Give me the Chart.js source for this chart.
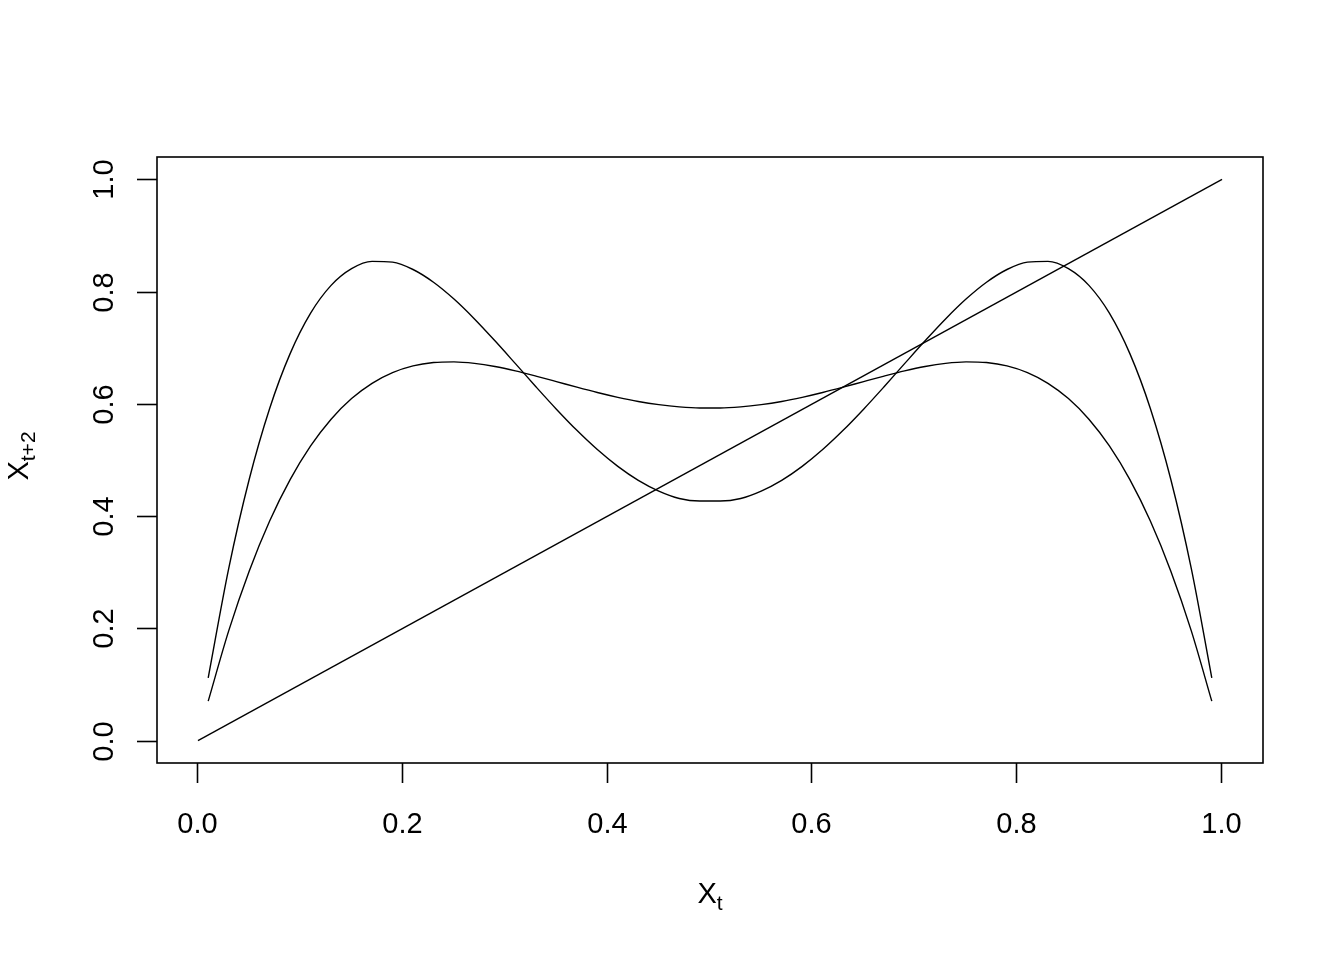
<!DOCTYPE html>
<html>
<head>
<meta charset="utf-8">
<script src="https://cdn.jsdelivr.net/npm/chart.js@4/dist/chart.umd.min.js"></script>
<style>
  html, body { margin: 0; padding: 0; background: #ffffff; }
  #wrap { width: 1344px; height: 960px; }
</style>
</head>
<body>
<div id="wrap"><canvas id="mapChart" width="1344" height="960"></canvas></div>
<script>
// x positions sampled along X_t
const xValues = [
  0.01, 0.03, 0.05, 0.07, 0.09, 0.11, 0.13, 0.15, 0.17, 0.19,
  0.21, 0.23, 0.25, 0.27, 0.29, 0.31, 0.33, 0.35, 0.37, 0.39,
  0.41, 0.43, 0.45, 0.47, 0.49, 0.51, 0.53, 0.55, 0.57, 0.59,
  0.61, 0.63, 0.65, 0.67, 0.69, 0.71, 0.73, 0.75, 0.77, 0.79,
  0.81, 0.83, 0.85, 0.87, 0.89, 0.91, 0.93, 0.95, 0.97, 0.99,
];

// tall two-humped curve (peaks ~0.85, dip ~0.43)
const curveHigh = [
  0.1119, 0.3065, 0.4653, 0.5919, 0.6896, 0.7617, 0.8112, 0.8410, 0.8540, 0.8526,
  0.8395, 0.8168, 0.7868, 0.7514, 0.7124, 0.6717, 0.6306, 0.5906, 0.5529, 0.5186,
  0.4886, 0.4637, 0.4445, 0.4314, 0.4268, 0.4268, 0.4314, 0.4445, 0.4637, 0.4886,
  0.5186, 0.5529, 0.5906, 0.6306, 0.6717, 0.7124, 0.7514, 0.7868, 0.8168, 0.8395,
  0.8526, 0.8540, 0.8410, 0.8112, 0.7617, 0.6896, 0.5919, 0.4653, 0.3065, 0.1119,
];

// flatter curve (peaks ~0.675, dip ~0.59)
const curveLow = [
  0.0702, 0.1955, 0.3019, 0.3912, 0.4650, 0.5250, 0.5727, 0.6095, 0.6367, 0.6557,
  0.6677, 0.6737, 0.6749, 0.6722, 0.6666, 0.6588, 0.6496, 0.6398, 0.6298, 0.6203,
  0.6117, 0.6043, 0.5986, 0.5946, 0.5926, 0.5926, 0.5946, 0.5986, 0.6043, 0.6117,
  0.6203, 0.6298, 0.6398, 0.6496, 0.6588, 0.6666, 0.6722, 0.6749, 0.6737, 0.6677,
  0.6557, 0.6367, 0.6095, 0.5727, 0.5250, 0.4650, 0.3912, 0.3019, 0.1955, 0.0702,
];

// identity line X_{t+2} = X_t
const diagX = [0, 1];
const diagY = [0, 1];

const tickValues = [0, 0.2, 0.4, 0.6, 0.8, 1.0];
const tickLabels = ["0.0", "0.2", "0.4", "0.6", "0.8", "1.0"];

const FONT = '"Liberation Sans", Arial, sans-serif';
const LABEL_PX = 29;
const SUB_PX = 21;

function toPoints(xs, ys) {
  return xs.map((x, i) => ({ x: x, y: ys[i] }));
}

function lineSet(data, smooth) {
  return {
    data: data,
    showLine: true,
    borderColor: "#000000",
    borderWidth: 1.4,
    pointRadius: 0,
    cubicInterpolationMode: smooth ? "monotone" : "default",
    tension: 0,
    fill: false,
  };
}

// draws the R-style box, ticks, tick labels and axis titles
const baseAxes = {
  id: "baseAxes",
  afterDraw(chart) {
    const ctx = chart.ctx;
    const area = chart.chartArea;
    const xs = chart.scales.x;
    const ys = chart.scales.y;
    const tickLen = 20;

    ctx.save();
    ctx.strokeStyle = "#000000";
    ctx.lineWidth = 1.6;
    ctx.strokeRect(area.left, area.top, area.right - area.left, area.bottom - area.top);

    ctx.fillStyle = "#000000";
    ctx.font = LABEL_PX + "px " + FONT;

    // x axis ticks + labels
    tickValues.forEach((v, i) => {
      const px = Math.round(xs.getPixelForValue(v)) - 0.5;
      ctx.beginPath();
      ctx.moveTo(px, area.bottom);
      ctx.lineTo(px, area.bottom + tickLen);
      ctx.stroke();
      ctx.textAlign = "center";
      ctx.textBaseline = "alphabetic";
      ctx.fillText(tickLabels[i], px, 833);
    });

    // y axis ticks + rotated labels
    tickValues.forEach((v, i) => {
      const py = Math.round(ys.getPixelForValue(v)) + 0.5;
      ctx.beginPath();
      ctx.moveTo(area.left, py);
      ctx.lineTo(area.left - tickLen, py);
      ctx.stroke();
      ctx.save();
      ctx.translate(113, py);
      ctx.rotate(-Math.PI / 2);
      ctx.textAlign = "center";
      ctx.textBaseline = "alphabetic";
      ctx.fillText(tickLabels[i], 0, 0);
      ctx.restore();
    });

    // x title: X_t
    const cx = (area.left + area.right) / 2;
    ctx.font = LABEL_PX + "px " + FONT;
    const wX = ctx.measureText("X").width;
    ctx.font = SUB_PX + "px " + FONT;
    const wSubX = ctx.measureText("t").width;
    let start = cx - (wX + wSubX) / 2;
    ctx.textAlign = "left";
    ctx.font = LABEL_PX + "px " + FONT;
    ctx.fillText("X", start, 903);
    ctx.font = SUB_PX + "px " + FONT;
    ctx.fillText("t", start + wX, 910);

    // y title: X_{t+2}
    const cy = (area.top + area.bottom) / 2 - 4;
    ctx.save();
    ctx.translate(28, cy);
    ctx.rotate(-Math.PI / 2);
    ctx.font = LABEL_PX + "px " + FONT;
    const wY = ctx.measureText("X").width;
    ctx.font = SUB_PX + "px " + FONT;
    const wSubY = ctx.measureText("t+2").width;
    start = -(wY + wSubY) / 2;
    ctx.textAlign = "left";
    ctx.font = LABEL_PX + "px " + FONT;
    ctx.fillText("X", start, 0);
    ctx.font = SUB_PX + "px " + FONT;
    ctx.fillText("t+2", start + wY, 7);
    ctx.restore();

    ctx.restore();
  },
};

const mapChart = new Chart(document.getElementById("mapChart").getContext("2d"), {
  type: "scatter",
  data: {
    datasets: [
      lineSet(toPoints(xValues, curveHigh), true),
      lineSet(toPoints(xValues, curveLow), true),
      lineSet(toPoints(diagX, diagY), false),
    ],
  },
  options: {
    responsive: false,
    animation: false,
    events: [],
    layout: {
      padding: { left: 157, right: 81, top: 157, bottom: 197 },
    },
    scales: {
      x: { type: "linear", min: -0.04, max: 1.04, display: false },
      y: { type: "linear", min: -0.04, max: 1.04, display: false },
    },
    plugins: {
      legend: { display: false },
      tooltip: { enabled: false },
    },
  },
  plugins: [baseAxes],
});
</script>
</body>
</html>
